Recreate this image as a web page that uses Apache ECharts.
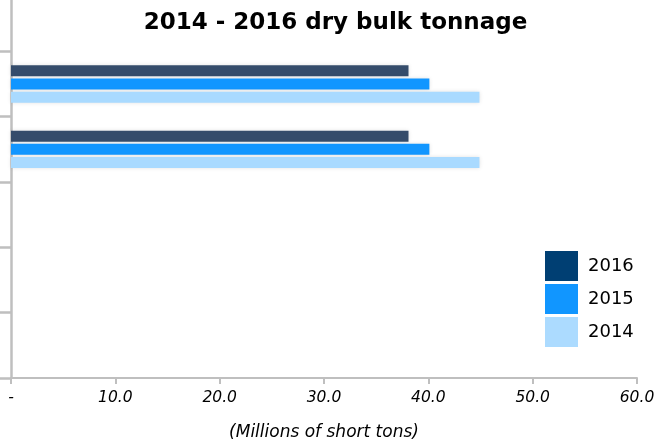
<!DOCTYPE html>
<html>
<head>
<meta charset="utf-8">
<script src="https://cdn.jsdelivr.net/npm/echarts@6/dist/echarts.min.js"></script>
<style>html,body{margin:0;padding:0;background:#fff;}#main{width:671px;height:445px;}</style>
</head>
<body>
<div id="main"></div>
<script>
var categories = ['Category A', 'Category B', 'Category C', 'Category D', 'Category E', 'Category F'];
var values2016 = [null, 38.1, 38.1, null, null, null];
var values2015 = [null, 40.1, 40.1, null, null, null];
var values2014 = [null, 44.9, 44.9, null, null, null];
var xTicks = [0, 10, 20, 30, 40, 50, 60];

var chart = echarts.init(document.getElementById('main'));
var shadow = {shadowColor: 'rgba(0,0,0,0.12)', shadowBlur: 4};
var FONT = 'DejaVu Sans';
chart.setOption({
  animation: false,
  title: {
    text: '2014 - 2016 dry bulk tonnage',
    left: 'center', top: 7,
    textStyle: {fontFamily: FONT, fontWeight: 'bold', fontSize: 23, color: '#000'}
  },
  legend: {
    orient: 'vertical', left: 540, top: 246, icon: 'rect',
    itemWidth: 33, itemHeight: 30, itemGap: 3,
    textStyle: {fontFamily: FONT, fontSize: 18, color: '#000', padding: [0,0,0,5]},
    data: [
      {name: '2016', itemStyle: {color: '#003f73'}},
      {name: '2015', itemStyle: {color: '#1196ff'}},
      {name: '2014', itemStyle: {color: '#acdbff'}}
    ]
  },
  grid: {left: 11, right: 34, top: -14, bottom: 67, containLabel: false, outerBoundsMode: 'none'},
  xAxis: {
    type: 'value', min: 0, max: 60, interval: 10,
    name: '(Millions of short tons)', nameLocation: 'middle', nameGap: 46,
    nameTextStyle: {fontFamily: FONT, fontStyle: 'italic', fontSize: 17, color: '#000'},
    axisLine: {show: true, lineStyle: {color: '#bfbfbf', width: 2}},
    axisTick: {show: true, length: 6, lineStyle: {color: '#bfbfbf', width: 2}},
    splitLine: {show: false},
    axisLabel: {
      fontFamily: FONT, fontStyle: 'italic', fontSize: 15.5, color: '#000', margin: 12,
      formatter: function (v) { return v === 0 ? '-' : v.toFixed(1); }
    }
  },
  yAxis: {
    type: 'category', data: categories, inverse: true,
    axisLine: {show: true, lineStyle: {color: '#bfbfbf', width: 2.5}},
    axisTick: {show: true, length: 11, lineStyle: {color: '#bfbfbf', width: 2.5}},
    axisLabel: {show: false}
  },
  series: [
    {name: '2016', type: 'bar', data: values2016, barWidth: 11, barGap: '20%', itemStyle: Object.assign({color: '#354c6b'}, shadow)},
    {name: '2015', type: 'bar', data: values2015, barWidth: 11, barGap: '20%', itemStyle: Object.assign({color: '#1196ff'}, shadow)},
    {name: '2014', type: 'bar', data: values2014, barWidth: 11, barGap: '20%', itemStyle: Object.assign({color: '#a9daff'}, shadow)}
  ]
});
</script>
</body>
</html>
